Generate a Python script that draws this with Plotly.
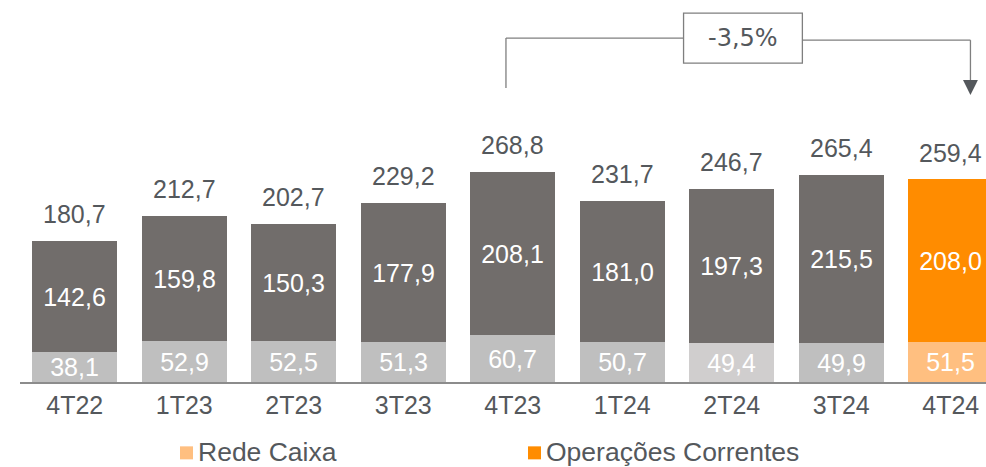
import plotly.graph_objects as go

categories = ["4T22", "1T23", "2T23", "3T23", "4T23", "1T24", "2T24", "3T24", "4T24"]
operacoes_correntes = [142.6, 159.8, 150.3, 177.9, 208.1, 181.0, 197.3, 215.5, 208.0]
rede_caixa = [38.1, 52.9, 52.5, 51.3, 60.7, 50.7, 49.4, 49.9, 51.5]
totals = [180.7, 212.7, 202.7, 229.2, 268.8, 231.7, 246.7, 265.4, 259.4]
variation_label = "-3,5%"

def fmt(v):
    return f"{v:.1f}".replace(".", ",")

dark = "#716D6B"
light = "#BFBFBF"
orange = "#FF8C00"
light_orange = "#FFBF80"
text_dark = "#54585C"
FONT = "Liberation Sans, Arial, sans-serif"

upper_colors = [dark] * 8 + [orange]
lower_colors = [light] * 6 + ["#D0CECE", light] + [light_orange]

x = list(range(len(categories)))

fig = go.Figure()
fig.add_trace(go.Bar(
    x=x, y=rede_caixa, name="Rede Caixa", marker=dict(color=lower_colors, line=dict(width=0)),
    text=[fmt(v) for v in rede_caixa], textposition="inside", insidetextanchor="middle",
    textangle=0, constraintext="none", textfont=dict(color="white", size=25, family=FONT),
    width=0.776, showlegend=False, hoverinfo="skip"))
fig.add_trace(go.Bar(
    x=x, y=operacoes_correntes, name="Operações Correntes", marker=dict(color=upper_colors, line=dict(width=0)),
    text=[fmt(v) for v in operacoes_correntes], textposition="inside", insidetextanchor="middle",
    textangle=0, constraintext="none", textfont=dict(color="white", size=25, family=FONT),
    width=0.776, showlegend=False, hoverinfo="skip"))

for i, t in enumerate(totals):
    fig.add_annotation(x=i, y=t, text=fmt(t), showarrow=False, yanchor="bottom", yshift=11,
                       font=dict(size=25, color=text_dark, family=FONT))

# variation bracket between 4T23 and 4T24
i0, i1 = 4, 8
line_c = "#7F7F7F"
xl = i0 - 0.062
xr = i1 + 0.18
y_top_l = 440.6
y_top_r = 438.0
box_x0, box_x1 = 5.56, 6.645
box_y0, box_y1 = 408.6, 472.7
fig.add_shape(type="line", x0=xl, x1=xl, y0=totals[i0] + 108, y1=y_top_l, line=dict(color=line_c, width=1.3))
fig.add_shape(type="line", x0=xl, x1=box_x0, y0=y_top_l, y1=y_top_l, line=dict(color=line_c, width=1.3))
fig.add_shape(type="line", x0=box_x1, x1=xr, y0=y_top_r, y1=y_top_r, line=dict(color=line_c, width=1.3))
fig.add_shape(type="line", x0=xr, x1=xr, y0=y_top_r, y1=386.8, line=dict(color=line_c, width=1.3))
fig.add_shape(type="path", path=f"M {xr-0.068},386.8 L {xr+0.068},386.8 L {xr},367.6 Z",
              fillcolor="#54585C", line=dict(width=0))
fig.add_shape(type="rect", x0=box_x0, x1=box_x1, y0=box_y0, y1=box_y1,
              line=dict(color=line_c, width=1.3), fillcolor="white")
fig.add_annotation(x=(box_x0 + box_x1) / 2, y=(box_y0 + box_y1) / 2, text=variation_label, showarrow=False,
                   font=dict(size=24, color=text_dark, family="DejaVu Sans, Verdana, sans-serif"))

# legend
legend_items = [("Rede Caixa", light_orange, 180), ("Operações Correntes", orange, 528)]
for label, col, px in legend_items:
    fig.add_shape(type="rect", xref="paper", yref="paper",
                  x0=(px - 20) / 966, x1=(px + 13 - 20) / 966,
                  y0=(381.7 - 459) / 381.7, y1=(381.7 - 446) / 381.7,
                  fillcolor=col, line=dict(width=0))
    fig.add_annotation(xref="paper", yref="paper", x=(px + 16 - 20) / 966, y=(381.7 - 452) / 381.7,
                       xanchor="left", yanchor="middle", text=label, showarrow=False,
                       font=dict(size=26.5, color=text_dark, family=FONT))

fig.update_layout(
    barmode="stack", width=986, height=467,
    margin=dict(l=20, r=0, t=0, b=85.3),
    plot_bgcolor="white", paper_bgcolor="white",
    showlegend=False, bargap=0,
    xaxis=dict(range=[-0.5, 8.322], tickmode="array", tickvals=x, ticktext=categories,
               showline=True, linecolor="#8C8C8C", linewidth=2, ticks="", showgrid=False,
               tickfont=dict(size=25, color=text_dark, family=FONT), fixedrange=True),
    yaxis=dict(range=[0, 489.4], visible=False, showgrid=False, fixedrange=True),
)
fig.write_html("out.html", config={"displayModeBar": False},
               post_script="document.body.style.margin='0';document.body.style.overflow='hidden';")
